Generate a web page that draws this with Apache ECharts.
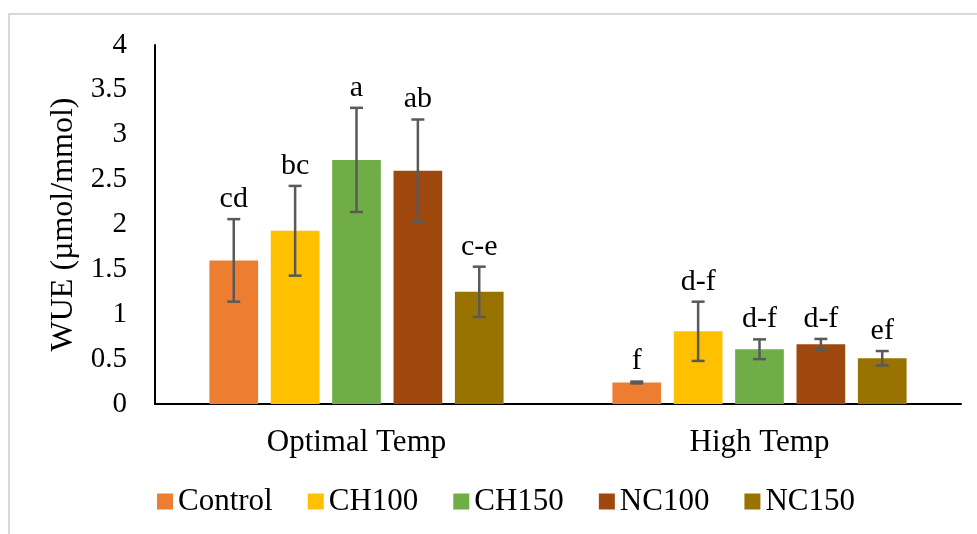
<!DOCTYPE html>
<html>
<head>
<meta charset="utf-8">
<script src="https://cdn.jsdelivr.net/npm/echarts@6/dist/echarts.min.js"></script>
<style>
  html, body { margin: 0; padding: 0; background: #fff; }
  #chart { width: 977px; height: 534px; }
</style>
</head>
<body>
<div id="chart"></div>
<script>
// Temperature groups on the x axis
const categories = ['Optimal Temp', 'High Temp'];
// Treatments (one bar per group each)
const treatments = ['Control', 'CH100', 'CH150', 'NC100', 'NC150'];

// Mean WUE per treatment, [Optimal, High]
const controlMean = [1.60, 0.24];
const ch100Mean   = [1.93, 0.81];
const ch150Mean   = [2.72, 0.61];
const nc100Mean   = [2.60, 0.665];
const nc150Mean   = [1.25, 0.51];

// Error bar half-widths, [Optimal, High]
const controlErr = [0.46, 0.01];
const ch100Err   = [0.50, 0.33];
const ch150Err   = [0.58, 0.11];
const nc100Err   = [0.57, 0.06];
const nc150Err   = [0.28, 0.08];

// Significance letters, [Optimal, High]
const controlLetters = ['cd', 'f'];
const ch100Letters   = ['bc', 'd-f'];
const ch150Letters   = ['a', 'd-f'];
const nc100Letters   = ['ab', 'd-f'];
const nc150Letters   = ['c-e', 'ef'];

// Y axis ticks
const yMin = 0, yMax = 4, yStep = 0.5;

const means   = [controlMean, ch100Mean, ch150Mean, nc100Mean, nc150Mean];
const errs    = [controlErr, ch100Err, ch150Err, nc100Err, nc150Err];
const letters = [controlLetters, ch100Letters, ch150Letters, nc100Letters, nc150Letters];
const colors  = ['#ED7D31', '#FFC000', '#70AD47', '#9E480E', '#997300'];

const FONT = "'Liberation Serif', 'Times New Roman', serif";
const BAR_GAP = 0.26;       // gap between bars, fraction of bar width
const CAT_GAP = 0.27;       // gap between groups, fraction of band width

const barSeries = treatments.map((name, k) => ({
  name: name,
  type: 'bar',
  data: means[k],
  barGap: (BAR_GAP * 100) + '%',
  barCategoryGap: (CAT_GAP * 100) + '%',
  itemStyle: { color: colors[k] },
  z: 2
}));

// Error bars and letters, placed over the matching bar in each group
const errorSeries = treatments.map((name, k) => ({
  name: name,
  type: 'custom',
  z: 5,
  silent: true,
  data: categories.map((c, i) => [i, means[k][i], errs[k][i]]),
  encode: { x: 0, y: 1 },
  renderItem: function (params, api) {
    const cat = api.value(0);
    const mean = api.value(1);
    const err = api.value(2);
    const band = api.size([1, 0])[0];
    const n = treatments.length;
    const w = band * (1 - CAT_GAP) / (n + (n - 1) * BAR_GAP);
    const total = n * w + (n - 1) * w * BAR_GAP;
    const center = api.coord([cat, mean]);
    const x = center[0] - total / 2 + k * w * (1 + BAR_GAP) + w / 2;
    const yTop = api.coord([cat, mean + err])[1];
    const yBot = api.coord([cat, mean - err])[1];
    const cap = 6.5;
    const ls = { stroke: '#595959', lineWidth: 2.5 };
    return {
      type: 'group',
      children: [
        { type: 'line', shape: { x1: x, y1: yTop, x2: x, y2: yBot }, style: ls },
        { type: 'line', shape: { x1: x - cap, y1: yTop, x2: x + cap, y2: yTop }, style: ls },
        { type: 'line', shape: { x1: x - cap, y1: yBot, x2: x + cap, y2: yBot }, style: ls },
        {
          type: 'text',
          style: {
            x: x, y: yTop - 5,
            text: letters[k][params.dataIndex],
            fill: '#000',
            font: '30px ' + FONT,
            textAlign: 'center',
            textVerticalAlign: 'bottom'
          }
        }
      ]
    };
  }
}));

const chart = echarts.init(document.getElementById('chart'), null, { renderer: 'canvas' });
chart.setOption({
  animation: false,
  backgroundColor: '#fff',
  textStyle: { fontFamily: FONT },
  graphic: [{
    type: 'rect',
    shape: { x: 9, y: 14, width: 1000, height: 600 },
    style: { fill: 'none', stroke: '#d9d9d9', lineWidth: 2 },
    silent: true
  }],
  grid: { left: 155, right: 16, top: 45, bottom: 130 },
  legend: {
    data: treatments,
    bottom: 12,
    left: 152,
    itemWidth: 16,
    itemHeight: 16,
    itemGap: 35,
    icon: 'rect',
    textStyle: { fontFamily: FONT, fontSize: 31, color: '#000' }
  },
  xAxis: {
    type: 'category',
    data: categories,
    axisLine: { lineStyle: { color: '#000', width: 2 } },
    axisTick: { show: false },
    axisLabel: { fontFamily: FONT, fontSize: 31, color: '#000', margin: 23 }
  },
  yAxis: {
    type: 'value',
    min: yMin, max: yMax, interval: yStep,
    name: 'WUE (µmol/mmol)',
    nameLocation: 'middle',
    nameRotate: 90,
    nameGap: 74,
    nameTextStyle: { fontFamily: FONT, fontSize: 32, color: '#000' },
    axisLine: { show: true, lineStyle: { color: '#000', width: 2 } },
    axisTick: { show: false },
    splitLine: { show: false },
    axisLabel: { fontFamily: FONT, fontSize: 29, color: '#000', margin: 28 }
  },
  series: barSeries.concat(errorSeries)
});
</script>
</body>
</html>
